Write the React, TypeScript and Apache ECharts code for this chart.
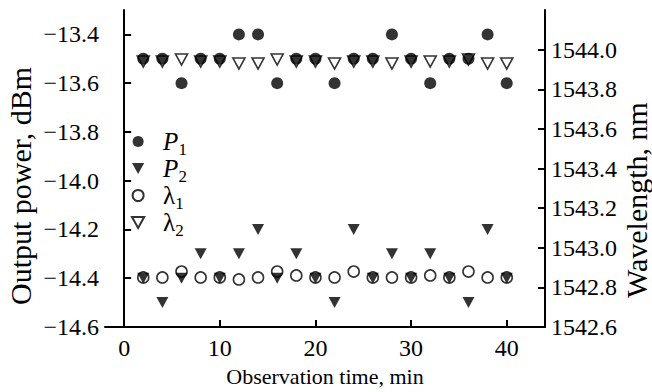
import React, { useEffect, useRef } from "react";
import * as echarts from "echarts";

const times = [2, 4, 6, 8, 10, 12, 14, 16, 18, 20, 22, 24, 26, 28, 30, 32, 34, 36, 38, 40];
const p1 = [-13.5, -13.5, -13.6, -13.5, -13.5, -13.4, -13.4, -13.6, -13.5, -13.5, -13.6, -13.5, -13.5, -13.4, -13.5, -13.6, -13.5, -13.5, -13.4, -13.6];
const p2 = [-14.4, -14.5, -14.4, -14.3, -14.4, -14.3, -14.2, -14.4, -14.3, -14.4, -14.5, -14.2, -14.4, -14.3, -14.4, -14.3, -14.4, -14.5, -14.2, -14.4];
const lambda1 = [1542.85, 1542.85, 1542.88, 1542.85, 1542.85, 1542.84, 1542.85, 1542.88, 1542.86, 1542.85, 1542.85, 1542.88, 1542.85, 1542.85, 1542.85, 1542.86, 1542.85, 1542.88, 1542.85, 1542.85];
const lambda2 = [1543.94, 1543.94, 1543.95, 1543.94, 1543.94, 1543.93, 1543.93, 1543.95, 1543.94, 1543.94, 1543.93, 1543.94, 1543.94, 1543.93, 1543.94, 1543.94, 1543.94, 1543.95, 1543.93, 1543.93];

const xTicks = [0, 10, 20, 30, 40];
const leftTicks = [-14.6, -14.4, -14.2, -14.0, -13.8, -13.6, -13.4];
const rightTicks = [1542.6, 1542.8, 1543.0, 1543.2, 1543.4, 1543.6, 1543.8, 1544.0];
const seriesNames = ["P1", "P2", "λ1", "λ2"];
const xTitle = "Observation time, min";
const leftTitle = "Output power, dBm";
const rightTitle = "Wavelength, nm";

const FONT = "'Liberation Serif', 'Times New Roman', serif";
const DOWN_TRI = "path://M0,0L10,0L5,9Z";
const zip = (ys: number[]) => times.map((t, i) => [t, ys[i]]);

export default function App() {
  const ref = useRef<HTMLDivElement>(null);
  useEffect(() => {
    const chart = echarts.init(ref.current!, undefined, { renderer: "svg" });
    const axisCommon = {
      axisLine: { show: true, lineStyle: { color: "#000", width: 2 } },
      axisTick: { show: true, inside: true, length: 7, lineStyle: { color: "#000", width: 2 } },
      splitLine: { show: false },
    };
    const labelStyle = { fontFamily: FONT, fontSize: 24, color: "#000" };
    chart.setOption({
      animation: false,
      backgroundColor: "#fff",
      grid: { left: 105, right: 107, top: 10, bottom: 64 },
      graphic: [
        {
          type: "text",
          x: 20,
          y: 186,
          rotation: Math.PI / 2,
          style: { text: leftTitle, font: `30px ${FONT}`, fill: "#000", textAlign: "center", textVerticalAlign: "middle" },
        },
        {
          type: "text",
          x: 636,
          y: 200,
          rotation: Math.PI / 2,
          style: { text: rightTitle, font: `30px ${FONT}`, fill: "#000", textAlign: "center", textVerticalAlign: "middle" },
        },
      ],
      legend: {
        orient: "vertical",
        left: 126,
        top: 120,
        itemWidth: 24,
        itemHeight: 11,
        itemGap: -6,
        data: seriesNames.map((n) => (n === "P2" || n === "λ2" ? { name: n, icon: DOWN_TRI } : { name: n })),
        formatter: (name: string) =>
          name[0] === "P" ? `{i|P}{s|${name.slice(1)}}` : `{l|λ}{s|${name.slice(1)}}`,
        textStyle: {
          fontFamily: FONT,
          fontSize: 24,
          color: "#000",
          padding: [0, 0, 0, 8],
          rich: {
            i: { fontFamily: FONT, fontSize: 25, fontStyle: "italic", color: "#000", lineHeight: 22 },
            l: { fontFamily: FONT, fontSize: 25, color: "#000", lineHeight: 22 },
            s: { fontFamily: FONT, fontSize: 17, color: "#000", padding: [16, 0, 0, 0], lineHeight: 10 },
          },
        },
      },
      xAxis: {
        type: "value",
        min: -2,
        max: 44,
        name: xTitle,
        nameLocation: "middle",
        nameGap: 38,
        nameTextStyle: { fontFamily: FONT, fontSize: 22, color: "#000" },
        ...axisCommon,
        axisTick: { ...axisCommon.axisTick, customValues: xTicks },
        axisLabel: { ...labelStyle, margin: 9, customValues: xTicks },
      },
      yAxis: [
        {
          type: "value",
          position: "left",
          min: -14.6,
          max: -13.3,
          ...axisCommon,
          axisTick: { ...axisCommon.axisTick, customValues: leftTicks },
          axisLabel: {
            ...labelStyle,
            margin: 6,
            customValues: leftTicks,
            formatter: (v: number) => v.toFixed(1).replace("-", "\u2212"),
          },
        },
        {
          type: "value",
          position: "right",
          min: 1542.6,
          max: 1544.2,
          ...axisCommon,
          axisTick: { ...axisCommon.axisTick, customValues: rightTicks },
          axisLabel: {
            ...labelStyle,
            margin: 6,
            customValues: rightTicks,
            formatter: (v: number) => v.toFixed(1),
          },
        },
      ],
      series: [
        {
          name: "λ2",
          type: "scatter",
          yAxisIndex: 1,
          data: zip(lambda2),
          symbol: DOWN_TRI,
          symbolSize: [12, 11],
          z: 1,
          itemStyle: { color: "#fff", borderColor: "#000", borderWidth: 1.6 },
        },
        {
          name: "λ1",
          type: "scatter",
          yAxisIndex: 1,
          data: zip(lambda1),
          symbol: "circle",
          symbolSize: 11,
          z: 1,
          itemStyle: { color: "#fff", borderColor: "#000", borderWidth: 1.6 },
        },
        {
          name: "P1",
          type: "scatter",
          yAxisIndex: 0,
          data: zip(p1),
          symbol: "circle",
          symbolSize: 12,
          z: 3,
          itemStyle: { color: "#000" },
        },
        {
          name: "P2",
          type: "scatter",
          yAxisIndex: 0,
          data: zip(p2),
          symbol: DOWN_TRI,
          symbolSize: [12, 11],
          z: 3,
          itemStyle: { color: "#000" },
        },
      ],
    });
    return () => chart.dispose();
  }, []);
  return <div ref={ref} style={{ width: 652, height: 392, position: "absolute", left: 0, top: 0 }} />;
}
